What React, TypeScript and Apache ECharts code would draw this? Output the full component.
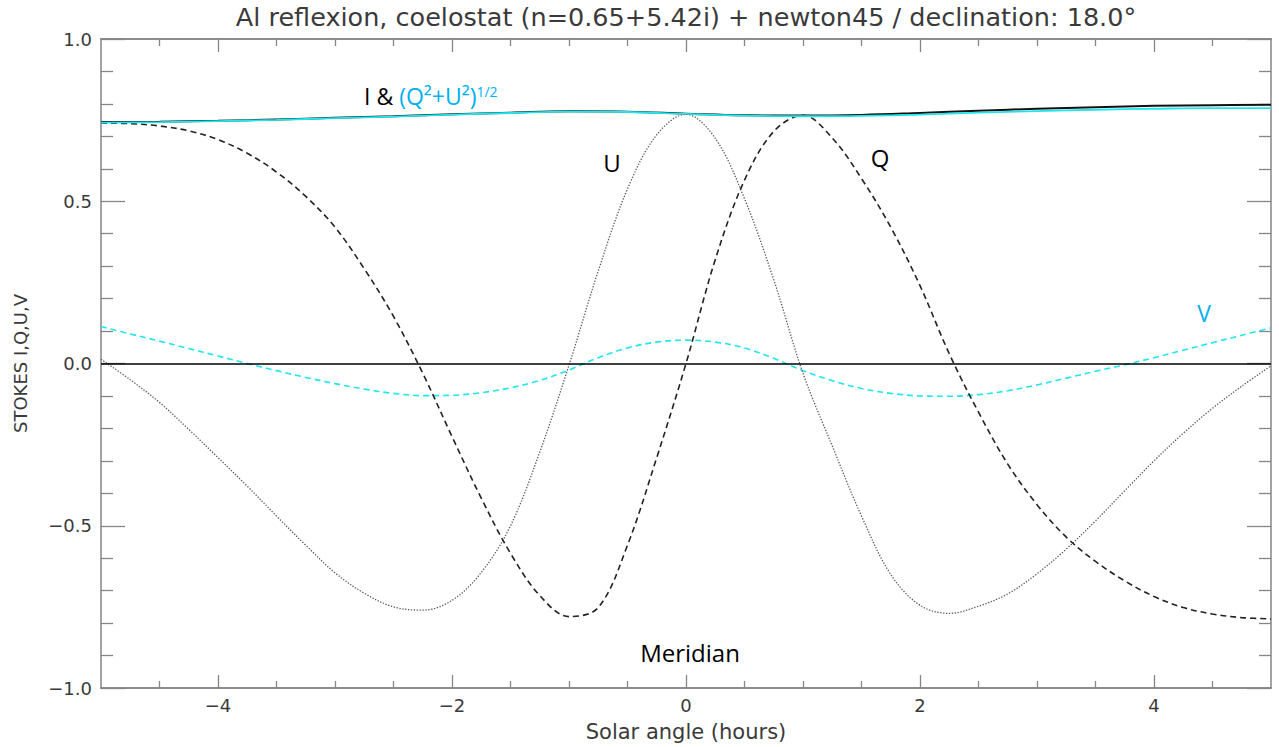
import React, { useEffect, useRef } from 'react';
import * as echarts from 'echarts';

// Solar angle (hours)
const hoursFine = [
  -5, -4.75, -4.5, -4.25, -4, -3.75, -3.5, -3.25, -3, -2.75, -2.5, -2.25, -2, -1.75, -1.5, -1.25, -1, -0.75, -0.5, -0.25,
  0, 0.25, 0.5, 0.75, 1, 1.25, 1.5, 1.75, 2, 2.25, 2.5, 2.75, 3, 3.25, 3.5, 3.75, 4, 4.25, 4.5, 4.75, 5,
];
const hoursCoarse = [
  -5, -4.5, -4, -3.5, -3, -2.5, -2, -1.5, -1, -0.5, 0, 0.5, 1, 1.5, 2, 2.5, 3, 3.5, 4, 4.5, 5,
];

// Stokes parameters
const stokesQ = [
  0.741, 0.739, 0.732, 0.717, 0.69, 0.648, 0.59, 0.515, 0.42, 0.292, 0.145, -0.03, -0.225, -0.415, -0.585, -0.715, -0.78,
  -0.752, -0.56, -0.29, 0.0, 0.32, 0.565, 0.715, 0.765, 0.695, 0.57, 0.42, 0.24, 0.03, -0.15, -0.31, -0.435, -0.535, -0.61,
  -0.67, -0.718, -0.752, -0.772, -0.783, -0.787,
];
const stokesU = [
  0.013, -0.05, -0.12, -0.203, -0.29, -0.378, -0.47, -0.56, -0.645, -0.708, -0.75, -0.76, -0.73, -0.644, -0.5, -0.273,
  -0.005, 0.285, 0.538, 0.705, 0.768, 0.694, 0.508, 0.258, -0.03, -0.254, -0.47, -0.65, -0.745, -0.77, -0.748, -0.71,
  -0.648, -0.572, -0.485, -0.392, -0.3, -0.215, -0.138, -0.07, -0.007,
];
const stokesV = [
  0.114, 0.091, 0.069, 0.046, 0.023, 0.0, -0.022, -0.043, -0.062, -0.079, -0.092, -0.099, -0.098, -0.09, -0.075, -0.052,
  -0.02, 0.018, 0.048, 0.066, 0.072, 0.066, 0.048, 0.016, -0.022, -0.053, -0.077, -0.092, -0.1, -0.101, -0.096, -0.084,
  -0.066, -0.045, -0.024, -0.004, 0.018, 0.041, 0.064, 0.087, 0.11,
];
const stokesI = [
  0.744, 0.745, 0.748, 0.752, 0.757, 0.762, 0.768, 0.773, 0.777, 0.776, 0.77, 0.765, 0.764, 0.766, 0.772, 0.779, 0.785, 0.79,
  0.794, 0.796, 0.797,
];
const polarized = [
  0.742, 0.744, 0.747, 0.751, 0.756, 0.761, 0.767, 0.772, 0.776, 0.775, 0.769, 0.764, 0.762, 0.763, 0.767, 0.773, 0.778, 0.782,
  0.785, 0.787, 0.787,
];

const xMajorTicks = [-4, -2, 0, 2, 4];
const xMinorTicks = [-4.5, -3.5, -3, -2.5, -1.5, -1, -0.5, 0.5, 1, 1.5, 2.5, 3, 3.5, 4.5];
const titleText = 'Al reflexion, coelostat (n=0.65+5.42i) + newton45 / declination: 18.0°';
const xName = 'Solar angle (hours)';
const yName = 'STOKES I,Q,U,V';

const pair = (xs: number[], ys: number[]) => xs.map((x, i) => [x, ys[i]]);
const minus = (s: string) => s.replace('-', '\u2212');

const AXIS_COLOR = '#858585';
const TEXT_COLOR = '#3a3a3a';
const AXIS_FONT = '"DejaVu Sans", sans-serif';
const NOTE_FONT = '"Open Sans", "Noto Sans", sans-serif';
const CYAN_LINE = '#1fe6ee';
const CYAN_TEXT = '#00b0f0';

export default function App() {
  const ref = useRef<HTMLDivElement>(null);

  useEffect(() => {
    if (!ref.current) return;
    const chart = echarts.init(ref.current, undefined, { renderer: 'svg' });
    const axisLine = { show: true, onZero: false, lineStyle: { color: AXIS_COLOR, width: 1.5 } };
    const tickStyle = { color: AXIS_COLOR, width: 1.3 };
    const baseX = { type: 'value' as const, min: -5, max: 5, interval: 0.5, splitLine: { show: false } };
    const baseY = { type: 'value' as const, min: -1, max: 1, interval: 0.5, splitLine: { show: false } };

    chart.setOption({
      animation: false,
      backgroundColor: '#ffffff',
      grid: { left: 101, right: 8, top: 39, bottom: 58 },
      xAxis: [
        {
          ...baseX,
          position: 'bottom',
          axisLine,
          axisTick: { show: true, inside: true, length: 13, customValues: xMajorTicks, lineStyle: tickStyle },
          axisLabel: {
            customValues: xMajorTicks,
            formatter: (v: number) => minus(String(v)),
            color: TEXT_COLOR,
            fontSize: 18,
            fontFamily: AXIS_FONT,
            margin: 8,
          },
          name: xName,
          nameLocation: 'middle',
          nameGap: 33,
          nameTextStyle: { color: TEXT_COLOR, fontSize: 21, fontFamily: AXIS_FONT },
        },
        {
          ...baseX,
          position: 'bottom',
          axisLine,
          axisTick: { show: true, inside: true, length: 7, customValues: xMinorTicks, lineStyle: tickStyle },
          axisLabel: { show: false },
        },
        {
          ...baseX,
          position: 'top',
          axisLine,
          axisTick: { show: true, inside: true, length: 13, customValues: xMajorTicks, lineStyle: tickStyle },
          axisLabel: { show: false },
        },
        {
          ...baseX,
          position: 'top',
          axisLine,
          axisTick: { show: true, inside: true, length: 7, customValues: xMinorTicks, lineStyle: tickStyle },
          axisLabel: { show: false },
        },
      ],
      yAxis: [
        {
          ...baseY,
          position: 'left',
          axisLine,
          axisTick: { show: true, inside: true, length: 24, lineStyle: tickStyle },
          minorTick: { show: true, splitNumber: 5, length: 12, lineStyle: tickStyle },
          axisLabel: {
            formatter: (v: number) => minus(v.toFixed(1)),
            color: TEXT_COLOR,
            fontSize: 18,
            fontFamily: AXIS_FONT,
            margin: 9,
          },
          name: yName,
          nameLocation: 'middle',
          nameGap: 72,
          nameRotate: 90,
          nameTextStyle: { color: TEXT_COLOR, fontSize: 18, fontFamily: AXIS_FONT },
        },
        {
          ...baseY,
          position: 'right',
          axisLine,
          axisTick: { show: true, inside: true, length: 24, lineStyle: tickStyle },
          minorTick: { show: true, splitNumber: 5, length: 12, lineStyle: tickStyle },
          axisLabel: { show: false },
        },
      ],
      series: [
        {
          name: 'V',
          type: 'line',
          data: pair(hoursFine, stokesV),
          smooth: 0.35,
          showSymbol: false,
          lineStyle: { color: CYAN_LINE, width: 1.6, type: [6, 4] },
          markLine: {
            silent: true,
            symbol: ['none', 'none'],
            label: { show: false },
            lineStyle: { color: '#000', width: 1.5, type: 'solid' },
            data: [{ yAxis: 0 }],
          },
          z: 2,
        },
        {
          name: 'U',
          type: 'line',
          data: pair(hoursFine, stokesU),
          smooth: 0.35,
          showSymbol: false,
          lineStyle: { color: '#555', width: 1.3, type: [1.3, 1.6] },
          z: 3,
        },
        {
          name: 'Q',
          type: 'line',
          data: pair(hoursFine, stokesQ),
          smooth: 0.35,
          showSymbol: false,
          lineStyle: { color: '#222', width: 1.6, type: [6, 4] },
          z: 3,
        },
        {
          name: 'I',
          type: 'line',
          data: pair(hoursCoarse, stokesI),
          smooth: 0.4,
          showSymbol: false,
          lineStyle: { color: '#111', width: 2 },
          z: 4,
        },
        {
          name: 'P',
          type: 'line',
          data: pair(hoursCoarse, polarized),
          smooth: 0.4,
          showSymbol: false,
          lineStyle: { color: CYAN_LINE, width: 1.8 },
          z: 5,
        },
      ],
      graphic: [
        {
          type: 'text',
          x: 686,
          y: 17,
          style: {
            text: titleText,
            fill: TEXT_COLOR,
            font: `25.5px ${AXIS_FONT}`,
            align: 'center',
            verticalAlign: 'middle',
          },
        },
        {
          type: 'text',
          x: 364,
          y: 96,
          style: {
            text: '{b|I & }{c|(Q²+U²)}{s|1/2}',
            align: 'left',
            verticalAlign: 'middle',
            rich: {
              b: { fill: '#000', fontSize: 23, fontFamily: NOTE_FONT, verticalAlign: 'bottom' },
              c: { fill: CYAN_TEXT, fontSize: 23, fontFamily: NOTE_FONT, verticalAlign: 'bottom' },
              s: { fill: CYAN_TEXT, fontSize: 14, fontFamily: NOTE_FONT, verticalAlign: 'top' },
            },
          },
        },
        {
          type: 'text',
          x: 612,
          y: 162,
          style: { text: 'U', fill: '#000', font: `24px ${NOTE_FONT}`, align: 'center', verticalAlign: 'middle' },
        },
        {
          type: 'text',
          x: 880,
          y: 157,
          style: { text: 'Q', fill: '#000', font: `24px ${NOTE_FONT}`, align: 'center', verticalAlign: 'middle' },
        },
        {
          type: 'text',
          x: 1204,
          y: 313,
          style: { text: 'V', fill: CYAN_TEXT, font: `23px ${NOTE_FONT}`, align: 'center', verticalAlign: 'middle' },
        },
        {
          type: 'text',
          x: 690,
          y: 652,
          style: { text: 'Meridian', fill: '#000', font: `24px ${NOTE_FONT}`, align: 'center', verticalAlign: 'middle' },
        },
      ],
    });

    return () => chart.dispose();
  }, []);

  return <div ref={ref} style={{ position: 'absolute', left: 0, top: 0, width: 1279, height: 747, background: '#fff' }} />;
}
